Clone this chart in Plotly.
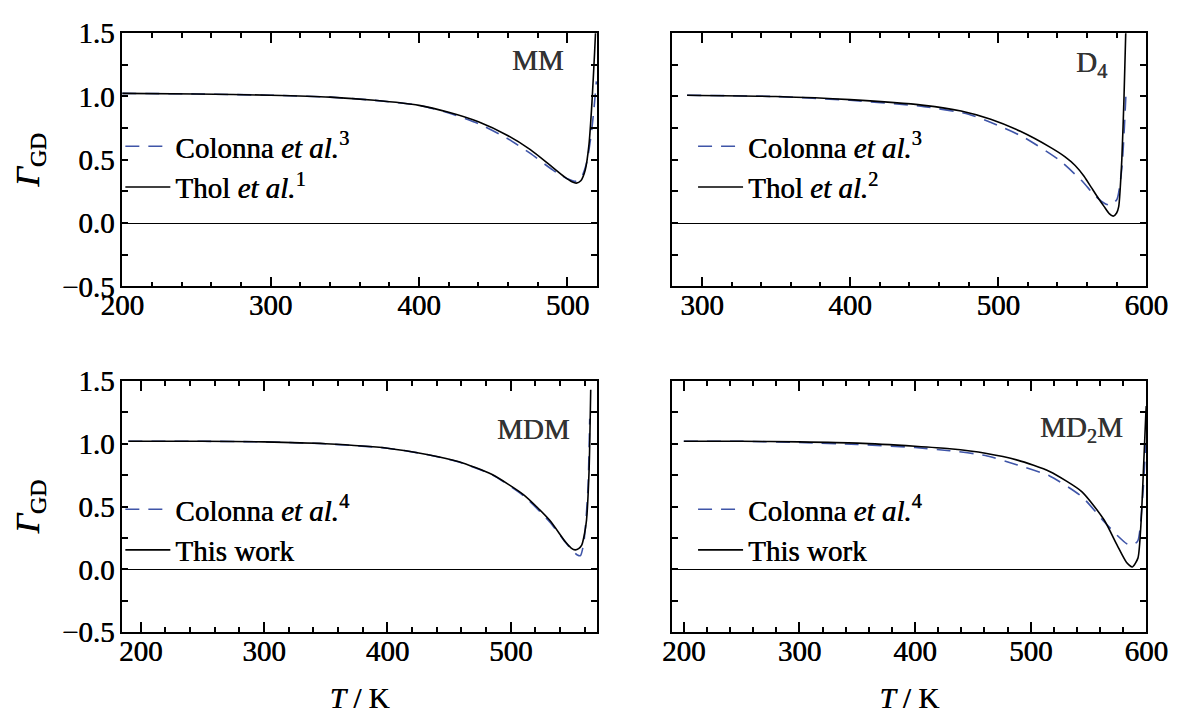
import plotly.graph_objects as go

# ---------------- data ----------------
# MM
mm_T_colonna = [200, 250, 300, 340, 370, 400, 420, 440, 460, 475, 490, 500, 505, 509, 513, 516, 518, 519.5]
mm_G_colonna = [1.025, 1.02, 1.01, 0.995, 0.97, 0.93, 0.87, 0.785, 0.665, 0.55, 0.42, 0.35, 0.33, 0.35, 0.48, 0.70, 0.92, 1.12]
mm_T_thol = [200, 250, 300, 340, 370, 400, 420, 440, 460, 475, 488, 498, 503, 506, 509, 512, 514.5, 516.5, 518.3, 519.3]
mm_G_thol = [1.025, 1.02, 1.01, 0.995, 0.97, 0.93, 0.875, 0.80, 0.69, 0.58, 0.46, 0.365, 0.327, 0.316, 0.335, 0.42, 0.62, 0.95, 1.35, 1.6]

# D4
d4_T_colonna = [290, 350, 400, 450, 480, 498, 517, 541, 556, 566, 572, 576, 580.3, 583.5, 585.2, 586.3]
d4_G_colonna = [1.01, 1.0, 0.97, 0.92, 0.86, 0.78, 0.68, 0.50, 0.34, 0.21, 0.155, 0.14, 0.19, 0.43, 0.75, 1.02]
d4_T_thol = [290, 350, 400, 450, 475, 495, 515, 535, 545, 552, 558, 563, 568, 571.6, 575, 577.7, 580, 581.4, 583.5, 585, 586.1, 586.5]
d4_G_thol = [1.01, 1.0, 0.975, 0.93, 0.885, 0.82, 0.725, 0.60, 0.525, 0.455, 0.37, 0.28, 0.19, 0.13, 0.075, 0.055, 0.08, 0.13, 0.5, 1.0, 1.48, 1.6]

# MDM
mdm_T_colonna = [190, 250, 300, 350, 400, 432, 458, 484.5, 510.5, 531.4, 544, 550, 554, 556.5, 559, 561, 562.7, 564]
mdm_G_colonna = [1.02, 1.02, 1.015, 1.0, 0.965, 0.915, 0.855, 0.755, 0.585, 0.38, 0.22, 0.15, 0.115, 0.11, 0.2, 0.4, 0.67, 1.2]
mdm_T_work = [190, 250, 300, 350, 400, 432, 458, 484.5, 510.5, 531.4, 544.4, 549, 552.2, 555, 557.5, 559.5, 561.4, 563.5, 564.8]
mdm_G_work = [1.02, 1.02, 1.015, 1.0, 0.965, 0.915, 0.857, 0.757, 0.594, 0.393, 0.218, 0.17, 0.156, 0.165, 0.193, 0.27, 0.393, 0.795, 1.43]

# MD2M
md2m_T_colonna = [200, 250, 300, 350, 400, 430, 460.8, 488.6, 516.4, 544.2, 563.6, 575, 583, 588, 592.8, 597, 599.5]
md2m_G_colonna = [1.02, 1.02, 1.01, 0.995, 0.97, 0.945, 0.907, 0.832, 0.744, 0.58, 0.38, 0.27, 0.205, 0.19, 0.23, 0.59, 1.0]
md2m_T_work = [200, 250, 300, 350, 400, 430, 460.8, 488.6, 516.4, 544.2, 563.6, 574.8, 583, 588, 592.8, 595.6, 597.8, 599.7, 600]
md2m_G_work = [1.02, 1.02, 1.015, 1.005, 0.98, 0.96, 0.925, 0.87, 0.78, 0.62, 0.393, 0.193, 0.055, 0.02, 0.09, 0.39, 0.84, 1.25, 1.3]

panel_labels = ["MM", "D<sub>4</sub>", "MDM", "MD<sub>2</sub>M"]
x_ranges = [[200, 520], [280, 600], [185, 570], [190, 600]]
y_range = [-0.5, 1.5]
legend_names = [
    ["Colonna <i>et al.</i><sup>3</sup>", "Thol <i>et al.</i><sup>1</sup>"],
    ["Colonna <i>et al.</i><sup>3</sup>", "Thol <i>et al.</i><sup>2</sup>"],
    ["Colonna <i>et al.</i><sup>4</sup>", "This work"],
    ["Colonna <i>et al.</i><sup>4</sup>", "This work"],
]

series = [
    (mm_T_colonna, mm_G_colonna, mm_T_thol, mm_G_thol),
    (d4_T_colonna, d4_G_colonna, d4_T_thol, d4_G_thol),
    (mdm_T_colonna, mdm_G_colonna, mdm_T_work, mdm_G_work),
    (md2m_T_colonna, md2m_G_colonna, md2m_T_work, md2m_G_work),
]

# ---------------- layout ----------------
W, H = 1201, 718
FONT = "Liberation Serif"
BLUE = "#3f55a8"
SH = "0.5px 0 0 black"


def fnt(size, color="black"):
    return dict(family=FONT, size=size, color=color, shadow=SH if color == "black" else "0.5px 0 0 " + color)


x_domains = [[104 / W, 597 / W], [675 / W, 1167 / W], [104 / W, 597 / W], [675 / W, 1167 / W]]
y_domains = [[(H - 283) / H, (H - 18) / H], [(H - 283) / H, (H - 18) / H],
             [(H - 645) / H, (H - 382) / H], [(H - 645) / H, (H - 382) / H]]
legend_pos = [(0.085, 0.847), (0.58, 0.847), (0.085, 0.318), (0.58, 0.318)]
label_pos = [(0.876, 0.895), (0.884, 0.88), (0.866, 0.81), (0.864, 0.81)]

fig = go.Figure()
layout = dict(
    width=W, height=H,
    margin=dict(l=0, r=0, t=0, b=0),
    paper_bgcolor="white", plot_bgcolor="white",
    font=dict(family=FONT, size=29, color="black"),
    showlegend=True,
)

annotations = []
for i in range(4):
    n = "" if i == 0 else str(i + 1)
    xa, ya = "x" + n, "y" + n
    leg = "legend" + n
    Tc, Gc, Tw, Gw = series[i]
    fig.add_trace(go.Scatter(
        x=Tc, y=Gc, mode="lines", name=legend_names[i][0],
        line=dict(color=BLUE, width=1.6, dash="14px,9px", shape="spline", smoothing=0.6),
        xaxis=xa, yaxis=ya, legend=leg, legendgroup="c" + n,
    ))
    fig.add_trace(go.Scatter(
        x=Tw, y=Gw, mode="lines", name=legend_names[i][1],
        line=dict(color="black", width=1.6, shape="spline", smoothing=0.6),
        xaxis=xa, yaxis=ya, legend=leg, legendgroup="w" + n,
    ))
    bottom = i >= 2
    left = i % 2 == 0
    layout["xaxis" + n] = dict(
        domain=x_domains[i], range=x_ranges[i], anchor=ya,
        showline=True, linecolor="black", linewidth=1.6, mirror="ticks",
        ticks="inside", ticklen=10, tickwidth=1.5, tickcolor="black",
        dtick=100, tick0=0, ticklabelstandoff=-8,
        minor=dict(dtick=20, tick0=0, ticks="inside", ticklen=5, tickwidth=1.5, tickcolor="black"),
        showgrid=False, zeroline=False,
        tickfont=fnt(29),
        title=dict(text="<i>T</i> / K" if bottom else "", font=fnt(29), standoff=22),
    )
    layout["yaxis" + n] = dict(
        domain=y_domains[i], range=y_range, anchor=xa,
        showline=True, linecolor="black", linewidth=1.6, mirror="ticks",
        ticks="inside", ticklen=6, tickwidth=1.5, tickcolor="black",
        dtick=0.5, tick0=0, tickformat=".1f",
        minor=dict(dtick=0.25, tick0=0, ticks="inside", ticklen=6, tickwidth=1.5, tickcolor="black"),
        showgrid=False,
        zeroline=True, zerolinecolor="black", zerolinewidth=1.3,
        showticklabels=left,
        tickfont=fnt(29),
        title=dict(text="<i>Γ</i><sub>GD</sub>" if left else "", font=fnt(34), standoff=12),
    )
    layout[leg] = dict(
        x=legend_pos[i][0], y=legend_pos[i][1], xanchor="left", yanchor="top",
        bgcolor="rgba(0,0,0,0)", borderwidth=0,
        font=fnt(29),
        itemwidth=45, tracegroupgap=0, traceorder="normal",
    )
    annotations.append(dict(
        text=panel_labels[i], xref=xa + " domain", yref=ya + " domain",
        x=label_pos[i][0], y=label_pos[i][1], xanchor="center", yanchor="middle",
        showarrow=False, font=fnt(29, "#333333"),
    ))

layout["annotations"] = annotations
fig.update_layout(**layout)
fig.write_html("out.html")
